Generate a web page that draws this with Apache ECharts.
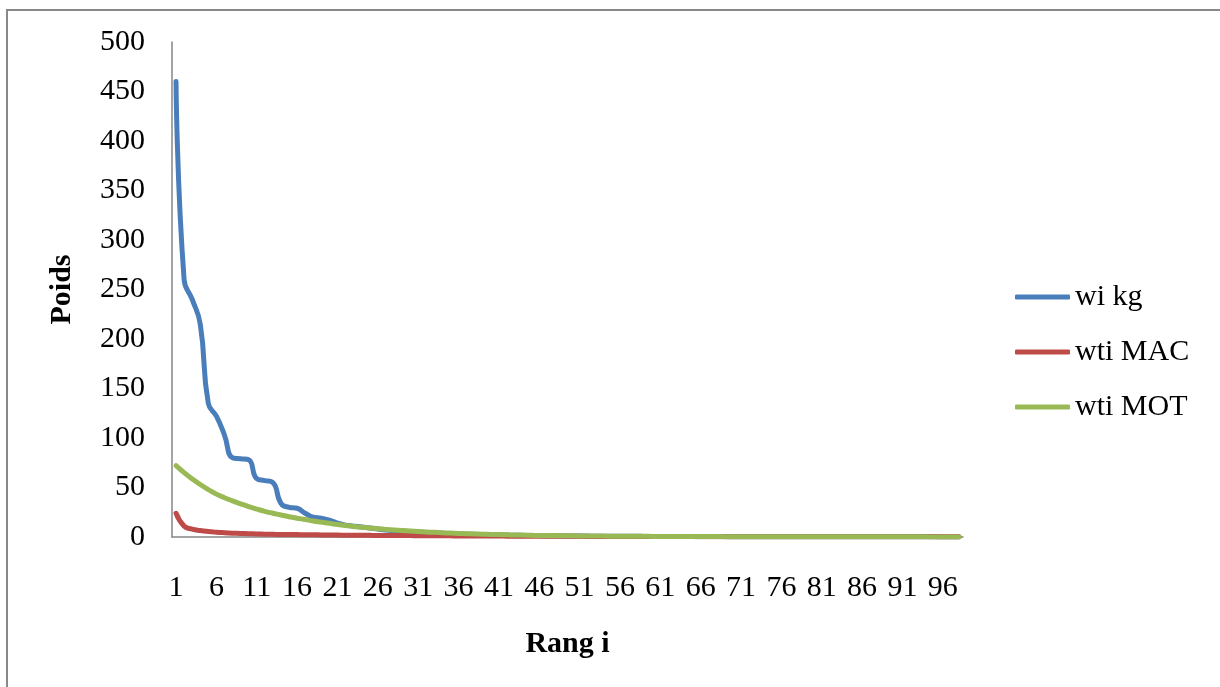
<!DOCTYPE html>
<html>
<head>
<meta charset="utf-8">
<script src="https://cdn.jsdelivr.net/npm/echarts@6/dist/echarts.min.js"></script>
<style>
html,body{margin:0;padding:0;background:#fff;}
#chart{width:1220px;height:687px;}
</style>
</head>
<body>
<div id="chart"></div>
<script>
const categories = [];
for (let i = 1; i <= 98; i++) categories.push(String(i));

const seriesNames = ['wi kg', 'wti MAC', 'wti MOT'];

const wiKg = [460,260,240,215,135,122,103,80,79,78,
  59,57,55,34,30,29,24,20,19,17,
  14,12,11,10,9,8,7,6.5,6,5.5,
  5,4.6,4.2,3.8,3.5,3.2,2.9,2.7,2.5,2.3,
  2.1,1.9,1.8,1.6,1.5,1.4,1.3,1.2,1.1,1.0,
  0.95,0.9,0.85,0.8,0.76,0.72,0.68,0.65,0.62,0.59,
  0.56,0.53,0.5,0.48,0.46,0.44,0.42,0.4,0.38,0.36,
  0.34,0.33,0.32,0.31,0.3,0.29,0.28,0.27,0.26,0.25,
  0.24,0.23,0.22,0.21,0.2,0.19,0.18,0.17,0.16,0.15,
  0.15,0.14,0.14,0.13,0.13,0.12,0.12,0.11];

const wtiMAC = [24,11,8,6.5,5.5,4.8,4.3,3.9,3.6,3.3,
  3.1,2.9,2.7,2.6,2.5,2.4,2.3,2.2,2.1,2.0,
  1.9,1.8,1.75,1.7,1.65,1.6,1.55,1.5,1.45,1.4,
  1.35,1.3,1.25,1.2,1.15,1.1,1.05,1.0,0.97,0.94,
  0.91,0.88,0.85,0.82,0.79,0.76,0.73,0.7,0.68,0.66,
  0.64,0.62,0.6,0.58,0.56,0.54,0.52,0.5,0.48,0.46,
  0.44,0.42,0.4,0.39,0.38,0.37,0.36,0.35,0.34,0.33,
  0.32,0.31,0.3,0.29,0.28,0.27,0.26,0.25,0.24,0.23,
  0.22,0.21,0.2,0.2,0.19,0.19,0.18,0.18,0.17,0.17,
  0.16,0.16,0.15,0.15,0.14,0.14,0.13,0.13];

const wtiMOT = [72,65,58.7,53,47.9,43.3,39.7,36.5,33.5,30.7,
  28.2,25.9,24,22.2,20.5,19,17.6,16.2,15,13.8,
  12.7,11.7,10.7,9.9,9.1,8.4,7.7,7.1,6.5,6.0,
  5.5,5.1,4.7,4.3,4.0,3.6,3.4,3.1,2.8,2.6,
  2.4,2.2,2.0,1.9,1.7,1.6,1.5,1.4,1.3,1.2,
  1.1,1.0,0.95,0.9,0.85,0.8,0.75,0.7,0.66,0.62,
  0.58,0.55,0.52,0.49,0.46,0.43,0.41,0.39,0.37,0.35,
  0.33,0.31,0.3,0.28,0.27,0.26,0.25,0.24,0.23,0.22,
  0.21,0.2,0.19,0.18,0.17,0.17,0.16,0.16,0.15,0.15,
  0.14,0.14,0.13,0.13,0.12,0.12,0.11,0.11];

const colors = ['#4A7EBB', '#BE4B48', '#98B954'];
const font = '"Liberation Serif", "Times New Roman", serif';

const chart = echarts.init(document.getElementById('chart'), null, {renderer: 'canvas'});
chart.setOption({
  animation: false,
  backgroundColor: '#fff',
  color: colors,
  graphic: [{
    type: 'rect',
    shape: {x: 7, y: 10, width: 1400, height: 900},
    style: {fill: 'none', stroke: '#888888', lineWidth: 2},
    silent: true
  }],
  grid: {left: 172, top: 42, right: 257, bottom: 150, containLabel: false},
  legend: {
    orient: 'vertical',
    left: 1015,
    top: 282,
    padding: 0,
    itemWidth: 55,
    itemHeight: 5,
    itemGap: 25,
    icon: 'roundRect',
    textStyle: {fontFamily: font, fontSize: 30, color: '#000'},
    data: seriesNames
  },
  xAxis: {
    type: 'category',
    data: categories,
    boundaryGap: true,
    name: 'Rang i',
    nameLocation: 'middle',
    nameGap: 92,
    nameTextStyle: {fontFamily: font, fontSize: 30, fontWeight: 'bold', color: '#000'},
    axisLine: {lineStyle: {color: '#868686', width: 1.5}},
    axisTick: {show: false},
    axisLabel: {interval: 4, fontFamily: font, fontSize: 30, color: '#000', margin: 36},
    splitLine: {show: false}
  },
  yAxis: {
    type: 'value',
    min: 0,
    max: 500,
    interval: 50,
    name: 'Poids',
    nameLocation: 'middle',
    nameGap: 95,
    nameTextStyle: {fontFamily: font, fontSize: 30, fontWeight: 'bold', color: '#000'},
    axisLine: {show: true, lineStyle: {color: '#868686', width: 1.5}},
    axisTick: {show: false},
    axisLabel: {fontFamily: font, fontSize: 30, color: '#000', margin: 27},
    splitLine: {show: false}
  },
  series: [
    {name: seriesNames[0], type: 'line', data: wiKg, smooth: 0.5, showSymbol: false,
      lineStyle: {width: 5, color: colors[0], cap: 'round', join: 'round'}, itemStyle: {color: colors[0]}},
    {name: seriesNames[1], type: 'line', data: wtiMAC, smooth: 0.5, showSymbol: false,
      lineStyle: {width: 5, color: colors[1], cap: 'round', join: 'round'}, itemStyle: {color: colors[1]}},
    {name: seriesNames[2], type: 'line', data: wtiMOT, smooth: 0.5, showSymbol: false,
      lineStyle: {width: 5, color: colors[2], cap: 'round', join: 'round'}, itemStyle: {color: colors[2]}}
  ]
});
</script>
</body>
</html>
